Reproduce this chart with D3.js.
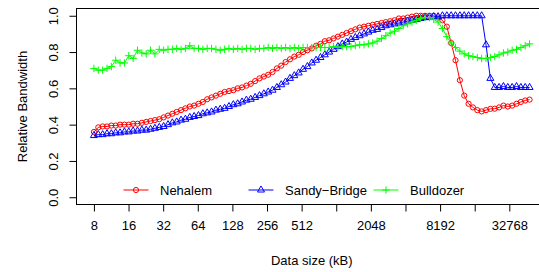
<!DOCTYPE html>
<html>
<head>
<meta charset="utf-8">
<script src="https://cdn.jsdelivr.net/npm/d3@7"></script>
<style>
  html, body { margin: 0; padding: 0; background: #fff; }
  svg { display: block; }
  text { font-family: "Liberation Sans", Arial, Helvetica, sans-serif; font-size: 13px; fill: #000; }
</style>
</head>
<body>
<svg id="chart" width="539" height="272"></svg>
<script>
// ---------------- data ----------------
// 101 data sizes, log-spaced from 8 kB to 48 MB
const sizesKB = d3.range(101).map(i => 8 * Math.pow(49152 / 8, i / 100));

const nehalem = [
  0.36, 0.385, 0.39, 0.39, 0.395, 0.395, 0.40, 0.40, 0.40, 0.405,
  0.405, 0.41, 0.415, 0.42, 0.425, 0.43, 0.44, 0.45, 0.46, 0.47,
  0.48, 0.49, 0.50, 0.505, 0.515, 0.525, 0.54, 0.55, 0.56, 0.57,
  0.58, 0.585, 0.59, 0.60, 0.605, 0.615, 0.625, 0.64, 0.655, 0.665,
  0.675, 0.69, 0.71, 0.725, 0.745, 0.76, 0.775, 0.785, 0.80, 0.81,
  0.82, 0.835, 0.845, 0.86, 0.865, 0.875, 0.885, 0.895, 0.905, 0.915,
  0.925, 0.935, 0.94, 0.945, 0.95, 0.955, 0.96, 0.965, 0.97, 0.975,
  0.985, 0.985, 0.99, 0.995, 1.0, 1.0, 1.0, 1.0, 1.0, 0.99,
  0.975, 0.94, 0.85, 0.755, 0.645, 0.56, 0.515, 0.495, 0.48, 0.473,
  0.48, 0.487, 0.488, 0.495, 0.505, 0.50, 0.505, 0.515, 0.525, 0.533,
  0.538
];

const sandyBridge = [
  0.34, 0.345, 0.345, 0.35, 0.35, 0.355, 0.355, 0.36, 0.36, 0.365,
  0.365, 0.37, 0.37, 0.375, 0.38, 0.385, 0.39, 0.40, 0.41, 0.415,
  0.425, 0.43, 0.44, 0.445, 0.45, 0.46, 0.465, 0.47, 0.48, 0.485,
  0.49, 0.50, 0.51, 0.515, 0.525, 0.535, 0.54, 0.55, 0.56, 0.57,
  0.58, 0.59, 0.605, 0.62, 0.635, 0.655, 0.67, 0.685, 0.705, 0.72,
  0.74, 0.755, 0.77, 0.785, 0.80, 0.815, 0.83, 0.845, 0.855, 0.87,
  0.88, 0.89, 0.90, 0.91, 0.92, 0.925, 0.935, 0.945, 0.95, 0.955,
  0.96, 0.965, 0.97, 0.975, 0.98, 0.985, 0.99, 0.99, 0.995, 0.995,
  1.0, 1.0, 1.0, 1.0, 1.0, 1.0, 1.0, 1.0, 1.0, 1.0,
  0.84, 0.655, 0.605, 0.605, 0.61, 0.605, 0.605, 0.61, 0.605, 0.605,
  0.605
];

const bulldozer = [
  0.71, 0.70, 0.70, 0.71, 0.72, 0.755, 0.74, 0.74, 0.78, 0.765,
  0.81, 0.795, 0.79, 0.81, 0.79, 0.815, 0.81, 0.815, 0.815, 0.82,
  0.815, 0.82, 0.835, 0.82, 0.82, 0.815, 0.82, 0.82, 0.815, 0.81,
  0.815, 0.82, 0.815, 0.82, 0.815, 0.82, 0.82, 0.815, 0.82, 0.82,
  0.825, 0.82, 0.825, 0.82, 0.825, 0.82, 0.825, 0.82, 0.825, 0.825,
  0.825, 0.825, 0.825, 0.825, 0.825, 0.83, 0.825, 0.83, 0.83, 0.83,
  0.835, 0.84, 0.84, 0.845, 0.85, 0.86, 0.875, 0.89, 0.905, 0.915,
  0.93, 0.945, 0.955, 0.965, 0.975, 0.985, 0.99, 0.99, 0.98, 0.965,
  0.93, 0.885, 0.85, 0.825, 0.805, 0.79, 0.78, 0.775, 0.77, 0.765,
  0.765, 0.77, 0.775, 0.785, 0.795, 0.80, 0.81, 0.815, 0.825, 0.835,
  0.845
];

const seriesNames = ["Nehalem", "Sandy\u2212Bridge", "Bulldozer"];
const seriesColors = ["#ff0000", "#0000ff", "#00ff00"];
const seriesShapes = ["circle", "triangle", "plus"];

const xTickValues = [8, 16, 32, 64, 128, 256, 512, 1024, 2048, 4096, 8192, 16384, 32768];
const xTickLabels = ["8", "16", "32", "64", "128", "256", "512", "", "2048", "", "8192", "", "32768"];
const yTickValues = [0, 0.2, 0.4, 0.6, 0.8, 1.0];
const yTickLabels = ["0.0", "0.2", "0.4", "0.6", "0.8", "1.0"];

const xTitle = "Data size (kB)";
const yTitle = "Relative Bandwidth";

// ---------------- layout ----------------
const plotLeft = 76.5, plotRight = 547, plotTop = 8.5, plotBottom = 204.5;
const svg = d3.select("#chart");

// R-style 4% extension of the data range (log2 space for x)
const lx0 = Math.log2(d3.min(sizesKB)), lx1 = Math.log2(d3.max(sizesKB));
const padX = 0.04 * (lx1 - lx0);
const x = d3.scaleLog().base(2)
  .domain([Math.pow(2, lx0 - padX), Math.pow(2, lx1 + padX)])
  .range([plotLeft, plotRight]);
const y = d3.scaleLinear().domain([-0.04, 1.04]).range([plotBottom, plotTop]);

// axes
const xAxis = d3.axisBottom(x)
  .tickValues(xTickValues)
  .tickFormat((d, i) => xTickLabels[i])
  .tickSize(7).tickPadding(9);
const gx = svg.append("g").attr("transform", `translate(0,${plotBottom})`).call(xAxis);
gx.select(".domain").remove();
gx.selectAll(".tick line").attr("stroke", "#000");
gx.selectAll(".tick text").attr("font-size", 13).attr("font-family", null).attr("fill", "#000");

const yAxis = d3.axisLeft(y)
  .tickValues(yTickValues)
  .tickFormat((d, i) => yTickLabels[i])
  .tickSize(7);
const gy = svg.append("g").attr("transform", `translate(${plotLeft},0)`).call(yAxis);
gy.select(".domain").remove();
gy.selectAll(".tick line").attr("stroke", "#000");
gy.selectAll(".tick text")
  .attr("font-size", 13).attr("font-family", null).attr("fill", "#000")
  .attr("x", 0).attr("y", -23).attr("dy", "0.36em")
  .attr("text-anchor", "middle")
  .attr("transform", "rotate(-90)");

// box
svg.append("rect")
  .attr("x", plotLeft).attr("y", plotTop)
  .attr("width", plotRight - plotLeft).attr("height", plotBottom - plotTop)
  .attr("fill", "none").attr("stroke", "#000").attr("stroke-width", 1);

// titles
svg.append("text").attr("x", (plotLeft + plotRight) / 2).attr("y", 265)
  .attr("text-anchor", "middle").text(xTitle);
svg.append("text").attr("transform", `translate(27,${(plotTop + plotBottom) / 2}) rotate(-90)`)
  .attr("text-anchor", "middle").text(yTitle);

// markers
const R = 2.6;
function marker(g, shape, cx, cy, color) {
  if (shape === "circle") {
    g.append("circle").attr("cx", cx).attr("cy", cy).attr("r", R)
      .attr("fill", "none").attr("stroke", color).attr("stroke-width", 1);
  } else if (shape === "triangle") {
    const r = 1.5551 * R, xc = 1.3468 * R, yc = 0.7776 * R;
    g.append("path")
      .attr("d", `M${cx},${cy - r}L${cx + xc},${cy + yc}L${cx - xc},${cy + yc}Z`)
      .attr("fill", "none").attr("stroke", color).attr("stroke-width", 1);
  } else {
    const h = 1.4142 * R;
    g.append("path")
      .attr("d", `M${cx - h},${cy}H${cx + h}M${cx},${cy - h}V${cy + h}`)
      .attr("fill", "none").attr("stroke", color).attr("stroke-width", 1);
  }
}

const allSeries = [nehalem, sandyBridge, bulldozer];
const line = d3.line().x((d, i) => x(sizesKB[i])).y(d => y(d));
const plotG = svg.append("g");
allSeries.forEach((vals, s) => {
  const g = plotG.append("g");
  g.append("path").attr("d", line(vals))
    .attr("fill", "none").attr("stroke", seriesColors[s]).attr("stroke-width", 1);
  vals.forEach((v, i) => marker(g, seriesShapes[s], x(sizesKB[i]), y(v), seriesColors[s]));
});

// legend (horizontal, no box)
const legendY = 190;
const legendX = [123.5, 248.5, 373.5];
const legG = svg.append("g");
seriesNames.forEach((name, s) => {
  const x0 = legendX[s];
  legG.append("line").attr("x1", x0).attr("x2", x0 + 25)
    .attr("y1", legendY).attr("y2", legendY)
    .attr("stroke", seriesColors[s]).attr("stroke-width", 1);
  marker(legG, seriesShapes[s], x0 + 12.5, legendY, seriesColors[s]);
  legG.append("text").attr("x", x0 + 36.5).attr("y", legendY).attr("dy", "0.36em").text(name);
});
</script>
</body>
</html>
